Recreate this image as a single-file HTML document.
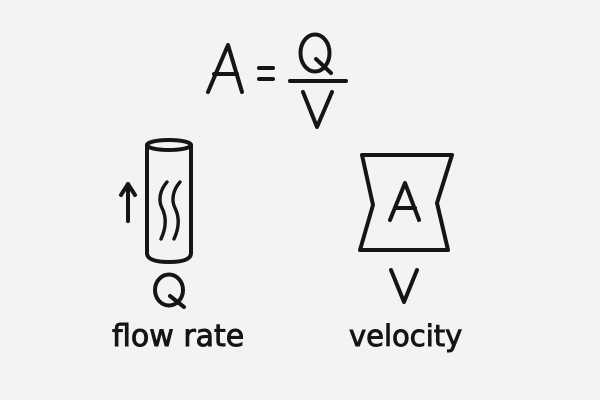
<!DOCTYPE html>
<html><head><meta charset="utf-8"><style>
html,body{margin:0;padding:0;background:#f3f3f3;}
svg{display:block;}
text{font-family:"DejaVu Sans","Liberation Sans",sans-serif;fill:#151515;}
</style></head><body>
<svg width="600" height="400" viewBox="0 0 600 400" xmlns="http://www.w3.org/2000/svg">
<rect width="600" height="400" fill="#f3f3f3"/>
<g fill="none" stroke="#151515" stroke-width="4" stroke-linecap="round" stroke-linejoin="round">
<!-- A = Q / V -->
<path d="M208 92 L228 45 L242 92"/>
<path d="M214 74 L237 74"/>
<path d="M259 68 L273 68"/>
<path d="M259 79 L273 79"/>
<ellipse cx="315" cy="53" rx="14.5" ry="18.5"/>
<path d="M316 59 L331 73"/>
<path d="M290 81 L346 81"/>
<path d="M303 92 L317 127 L332 92"/>

<!-- cylinder -->
<ellipse cx="169" cy="145" rx="22" ry="5"/>
<path d="M147 145 L147 253 Q147 262 169 262 Q191 262 191 253 L191 145"/>
<path d="M128 221 L128 184"/>
<path d="M121 195 L128 184 L135 195"/>
<path d="M167 182 C160 190 158 200 162 208 C166 216 167 226 161 239" stroke-width="3.4"/>
<path d="M180 182 C173 190 171 200 175 208 C179 216 180 226 174 239" stroke-width="3.4"/>
<ellipse cx="169" cy="290" rx="14" ry="15.5"/>
<path d="M170 296 L184 307"/>

<!-- hourglass -->
<path d="M362 155 L452 155 L437 203 L448 250 L360 250 L373 205 Z"/>
<path d="M390 220 L405 183 L419 220"/>
<path d="M395 208 L415 208"/>
<path d="M391 270 L404 302 L417 270"/>
</g>
<text x="112" y="346" font-size="30" stroke="#151515" stroke-width="0.9">flow rate</text>
<text x="349" y="346" font-size="29" stroke="#151515" stroke-width="0.9">velocity</text>
</svg>
</body></html>
